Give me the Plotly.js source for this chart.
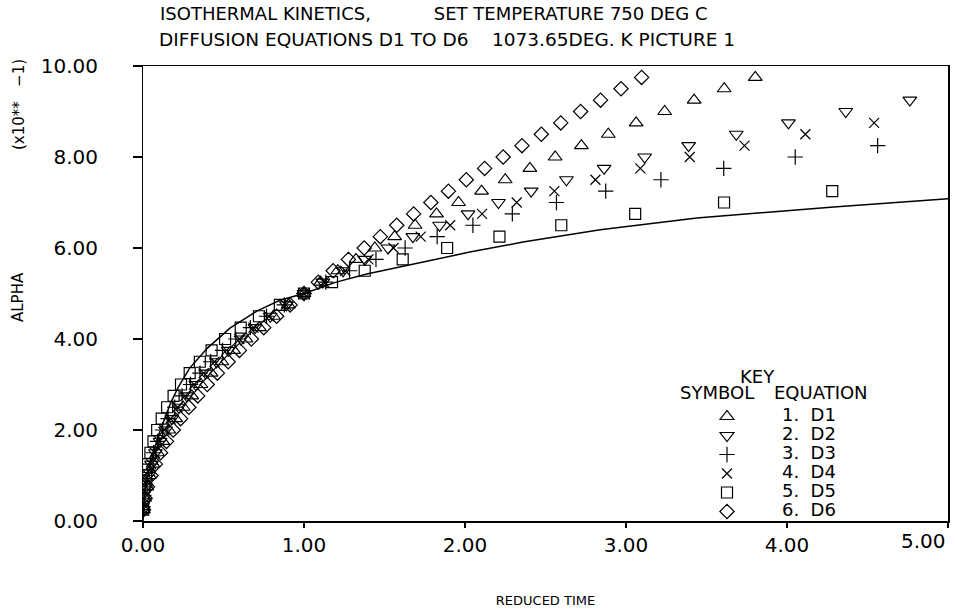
<!DOCTYPE html>
<html>
<head>
<meta charset="utf-8">
<script src="https://cdn.plot.ly/plotly-3.0.1.min.js"></script>
<style>
html, body { margin: 0; padding: 0; background: #ffffff; }
#chart { width: 955px; height: 615px; }
</style>
</head>
<body>
<div id="chart"></div>
<script>
// Alpha levels (displayed in units of x10**-1)
var alphaLevels = [0.25,0.50,0.75,1.00,1.25,1.50,1.75,2.00,2.25,2.50,2.75,3.00,3.25,3.50,3.75,4.00,4.25,4.50,4.75,5.00,
                   5.25,5.50,5.75,6.00,6.25,6.50,6.75,7.00,7.25,7.50,7.75,8.00,8.25,8.50,8.75,9.00,9.25,9.50,9.75];

// Reduced time for each diffusion equation
var timeD1 = [0.003,0.010,0.023,0.040,0.063,0.090,0.123,0.160,0.203,0.250,0.303,0.360,0.423,0.490,0.563,0.640,0.723,0.810,0.903,1.000,
              1.103,1.210,1.323,1.440,1.563,1.690,1.823,1.960,2.103,2.250,2.403,2.560,2.723,2.890,3.063,3.240,3.423,3.610,3.803];
var timeD2 = [0.002,0.008,0.019,0.034,0.053,0.077,0.106,0.140,0.179,0.223,0.273,0.328,0.389,0.456,0.530,0.609,0.696,0.790,0.891,1.000,
              1.117,1.243,1.378,1.522,1.676,1.842,2.019,2.208,2.411,2.630,2.864,3.116,3.389,3.685,4.009,4.365,4.763];
var timeD3 = [0.002,0.007,0.015,0.028,0.045,0.065,0.091,0.121,0.156,0.197,0.243,0.295,0.354,0.420,0.494,0.576,0.667,0.767,0.878,1.000,
              1.135,1.283,1.447,1.628,1.827,2.049,2.294,2.568,2.874,3.217,3.607,4.051,4.563];
var timeD4 = [0.002,0.008,0.018,0.032,0.050,0.073,0.101,0.133,0.171,0.214,0.262,0.317,0.377,0.444,0.518,0.598,0.686,0.782,0.887,1.000,
              1.123,1.256,1.400,1.556,1.725,1.908,2.106,2.321,2.555,2.810,3.089,3.396,3.736,4.114,4.541];
var timeD5 = [0.001,0.004,0.010,0.019,0.031,0.046,0.065,0.088,0.116,0.150,0.190,0.236,0.290,0.353,0.426,0.510,0.607,0.720,0.850,1.000,
              1.174,1.377,1.613,1.889,2.214,2.598,3.057,3.609,4.281];
var timeD6 = [0.003,0.013,0.028,0.050,0.077,0.109,0.146,0.188,0.234,0.285,0.340,0.399,0.462,0.529,0.599,0.673,0.750,0.830,0.914,1.000,
              1.089,1.181,1.276,1.374,1.474,1.576,1.681,1.788,1.897,2.008,2.122,2.237,2.354,2.474,2.595,2.718,2.842,2.969,3.097];

// Experimental curve (solid line)
var curveTime  = [0, 0.01, 0.03, 0.05, 0.093, 0.12, 0.17, 0.22, 0.29, 0.40, 0.54, 0.71, 0.85, 1.00, 1.20, 1.39, 1.74, 2.03, 2.36, 2.84, 3.44, 4.29, 5.00];
var curveAlpha = [0, 0.55, 1.00, 1.30, 1.85, 2.12, 2.58, 2.95, 3.36, 3.80, 4.24, 4.62, 4.85, 5.00, 5.25, 5.43, 5.69, 5.91, 6.13, 6.40, 6.66, 6.90, 7.08];

// Tick labels
var xTickVals = [0, 1, 2, 3, 4, 5];
var xTickText = ['0.00', '1.00', '2.00', '3.00', '4.00', ''];
var yTickVals = [0, 2, 4, 6, 8, 10];
var yTickText = ['0.00', '2.00', '4.00', '6.00', '8.00', '10.00'];

var seriesNames = ['1.\u00a0\u00a0D1','2.\u00a0\u00a0D2','3.\u00a0\u00a0D3','4.\u00a0\u00a0D4','5.\u00a0\u00a0D5','6.\u00a0\u00a0D6'];
var seriesTimes = [timeD1, timeD2, timeD3, timeD4, timeD5, timeD6];
var seriesSymbols = ['triangle-up-open','triangle-down-open','cross-thin-open','x-thin-open','square-open','diamond-open'];
var seriesSizes = [12, 12, 11, 10, 11, 11];

var FONT = 'DejaVu Sans, Liberation Sans, Arial, sans-serif';

var traces = [{
  type: 'scatter', mode: 'lines',
  x: curveTime, y: curveAlpha, yaxis: 'y2',
  line: {color: '#000', width: 1.5, shape: 'linear'},
  showlegend: false, hoverinfo: 'skip'
}];

for (var i = 0; i < seriesTimes.length; i++) {
  traces.push({
    type: 'scatter', mode: 'markers',
    name: '<span style="font-size:18px">' + seriesNames[i] + '</span>',
    x: seriesTimes[i],
    y: alphaLevels.slice(0, seriesTimes[i].length),
    marker: {symbol: seriesSymbols[i], size: seriesSizes[i], color: '#000', line: {color: '#000', width: 1.2}},
    cliponaxis: true
  });
}

var layout = {
  width: 955, height: 615,
  paper_bgcolor: '#fff', plot_bgcolor: '#fff',
  margin: {l: 143, r: 7, t: 66, b: 94},
  font: {family: FONT, color: '#000', size: 16},
  title: {
    text: 'ISOTHERMAL KINETICS,' + '\u00a0'.repeat(11) + 'SET TEMPERATURE 750 DEG C',
    x: 160 / 955, xref: 'container', xanchor: 'left',
    y: 1 - 14 / 615, yref: 'container', yanchor: 'middle',
    font: {family: FONT, size: 18, color: '#000'}
  },
  xaxis: {
    range: [0, 5], tickvals: xTickVals, ticktext: xTickText,
    showgrid: false, zeroline: false, showline: true, linecolor: '#000', linewidth: 1.5, mirror: true,
    ticks: 'outside', ticklen: 5, tickwidth: 1.2, tickcolor: '#000',
    tickfont: {family: FONT, size: 20, color: '#000'},
    title: {text: 'REDUCED TIME', font: {family: FONT, size: 13, color: '#000'}, standoff: 40}
  },
  // main y axis: frame line and short outward tick marks
  yaxis: {
    range: [0, 10], tickvals: yTickVals, showticklabels: false,
    showgrid: false, zeroline: false, showline: true, linecolor: '#000', linewidth: 1.5, mirror: true,
    ticks: 'outside', ticklen: 9, tickwidth: 1.2, tickcolor: '#000'
  },
  // same scale, carries the tick labels set further out from the axis
  yaxis2: {
    overlaying: 'y', side: 'left', anchor: 'x',
    range: [0, 10], tickvals: yTickVals, ticktext: yTickText,
    showgrid: false, zeroline: false, showline: false,
    ticks: 'outside', ticklen: 40, tickcolor: 'rgba(0,0,0,0)',
    tickfont: {family: FONT, size: 20, color: '#000'}
  },
  legend: {
    x: (672 - 143) / 805, xanchor: 'left',
    y: (521 - 402) / 455, yanchor: 'top',
    bgcolor: 'rgba(0,0,0,0)', borderwidth: 0,
    itemwidth: 100, font: {family: FONT, size: 11, color: '#000'},
    tracegroupgap: 0
  },
  annotations: [
    {text: 'DIFFUSION EQUATIONS D1 TO D6' + '\u00a0'.repeat(4) + '1073.65DEG. K PICTURE 1',
     xref: 'paper', yref: 'paper', x: (157 - 143) / 805, y: (521 - 40) / 455,
     xanchor: 'left', yanchor: 'middle', showarrow: false, font: {family: FONT, size: 18.5, color: '#000'}},
    {text: 'ALPHA', textangle: -90,
     xref: 'paper', yref: 'paper', x: (18 - 143) / 805, y: (521 - 297) / 455,
     xanchor: 'center', yanchor: 'middle', showarrow: false, font: {family: FONT, size: 15, color: '#000'}},
    {text: '(x10**\u00a0\u00a0\u00a0\u22121)', textangle: -90,
     xref: 'paper', yref: 'paper', x: (19 - 143) / 805, y: (521 - 105) / 455,
     xanchor: 'center', yanchor: 'middle', showarrow: false, font: {family: FONT, size: 15, color: '#000'}},
    {text: '5.00', xref: 'x', yref: 'paper', x: 5, y: 0, xanchor: 'right', yanchor: 'top', yshift: -6,
     showarrow: false, font: {family: FONT, size: 20, color: '#000'}},
    {text: 'KEY', xref: 'paper', yref: 'paper', x: (757 - 143) / 805, y: (521 - 376) / 455,
     xanchor: 'center', yanchor: 'middle', showarrow: false, font: {family: FONT, size: 18, color: '#000'}},
    {text: 'SYMBOL', xref: 'paper', yref: 'paper', x: (717 - 143) / 805, y: (521 - 392) / 455,
     xanchor: 'center', yanchor: 'middle', showarrow: false, font: {family: FONT, size: 18, color: '#000'}},
    {text: 'EQUATION', xref: 'paper', yref: 'paper', x: (821 - 143) / 805, y: (521 - 392) / 455,
     xanchor: 'center', yanchor: 'middle', showarrow: false, font: {family: FONT, size: 18, color: '#000'}}
  ]
};

Plotly.newPlot('chart', traces, layout, {staticPlot: true, displayModeBar: false});
</script>
</body>
</html>
